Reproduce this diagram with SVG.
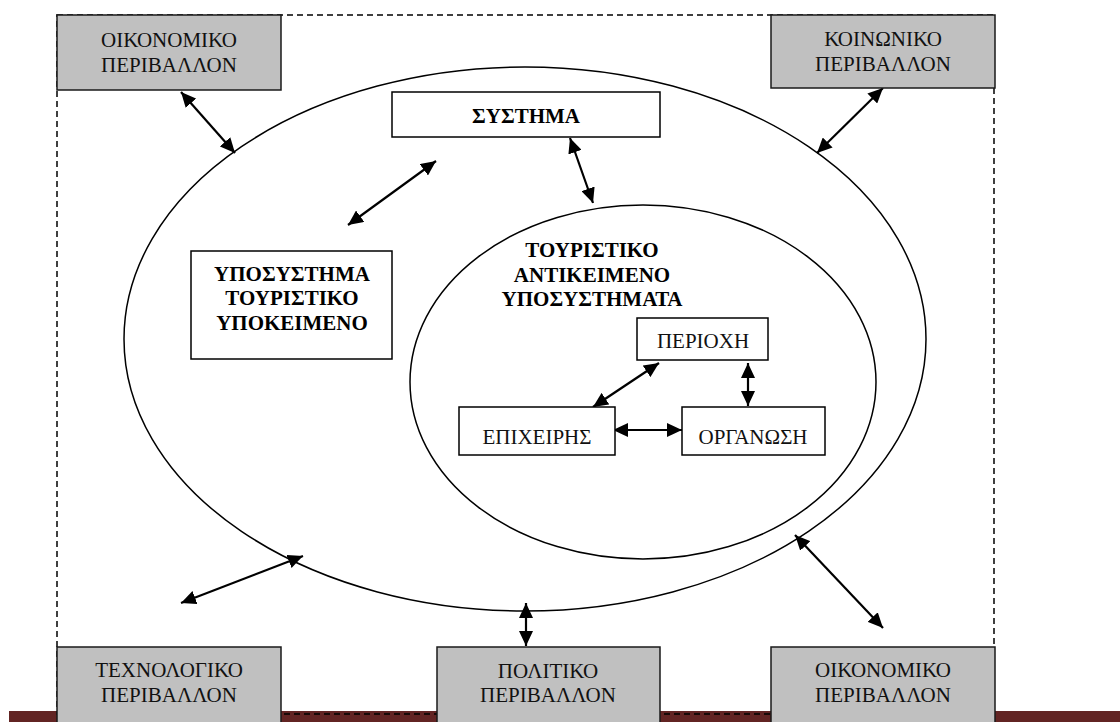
<svg xmlns="http://www.w3.org/2000/svg" width="1120" height="722" viewBox="0 0 1120 722">
<defs>
<style>
.env{fill:#c0c0c0;stroke:#1a1a1a;stroke-width:1.5}
.box{fill:#fff;stroke:#000;stroke-width:1.5}
.t{font-family:"Liberation Serif","DejaVu Serif",serif;font-size:21px;fill:#111;text-anchor:middle}
.b{font-weight:bold;fill:#000}
.ell{fill:none;stroke:#000;stroke-width:1.5}
.arr{stroke:#000;stroke-width:2.2;fill:none;marker-start:url(#ah);marker-end:url(#ah)}
</style>
<marker id="ah" markerUnits="userSpaceOnUse" markerWidth="16" markerHeight="14" refX="15" refY="7" orient="auto-start-reverse">
<path d="M0,0 L15,7 L0,14 z" fill="#000"/>
</marker>
</defs>
<rect x="0" y="0" width="1120" height="722" fill="#fff"/>
<rect x="9" y="711" width="1111" height="11" fill="#622423"/>
<rect x="57" y="15" width="937" height="699" fill="none" stroke="#000" stroke-width="1.5" stroke-dasharray="6,4"/>
<ellipse id="outer" class="ell" cx="525" cy="339" rx="401" ry="272"/>
<ellipse id="inner" class="ell" cx="643" cy="382" rx="233" ry="177"/>
<g id="connectors">
<line class="arr" x1="181" y1="92" x2="235" y2="153"/>
<line class="arr" x1="883" y1="88" x2="817" y2="153"/>
<line class="arr" x1="436" y1="161" x2="348" y2="225"/>
<line class="arr" x1="570" y1="138" x2="593" y2="203"/>
<line class="arr" x1="659" y1="363" x2="593" y2="407"/>
<line class="arr" x1="748" y1="363" x2="748" y2="406"/>
<line class="arr" x1="613" y1="430" x2="682" y2="430"/>
<line class="arr" x1="303" y1="556" x2="181" y2="603"/>
<line class="arr" x1="526" y1="603" x2="526" y2="646"/>
<line class="arr" x1="795" y1="535" x2="883" y2="628"/>
</g>
<g id="env-oikonomiko-top">
<rect class="env" x="57" y="15" width="224" height="75"/>
<text class="t" x="169" y="47">ΟΙΚΟΝΟΜΙΚΟ</text>
<text class="t" x="169" y="72">ΠΕΡΙΒΑΛΛΟΝ</text>
</g>
<g id="env-koinoniko">
<rect class="env" x="771" y="15" width="224" height="73"/>
<text class="t" x="883" y="46">ΚΟΙΝΩΝΙΚΟ</text>
<text class="t" x="883" y="71">ΠΕΡΙΒΑΛΛΟΝ</text>
</g>
<g id="env-technologiko">
<rect class="env" x="57" y="647" width="224" height="85"/>
<text class="t" x="169" y="677">ΤΕΧΝΟΛΟΓΙΚΟ</text>
<text class="t" x="169" y="702">ΠΕΡΙΒΑΛΛΟΝ</text>
</g>
<g id="env-politiko">
<rect class="env" x="437" y="647" width="223" height="85"/>
<text class="t" x="548" y="678">ΠΟΛΙΤΙΚΟ</text>
<text class="t" x="548" y="702">ΠΕΡΙΒΑΛΛΟΝ</text>
</g>
<g id="env-oikonomiko-bottom">
<rect class="env" x="771" y="647" width="224" height="85"/>
<text class="t" x="883" y="677">ΟΙΚΟΝΟΜΙΚΟ</text>
<text class="t" x="883" y="702">ΠΕΡΙΒΑΛΛΟΝ</text>
</g>
<g id="systima">
<rect class="box" x="392" y="92" width="268" height="45"/>
<text class="t b" x="526" y="123">ΣΥΣΤΗΜΑ</text>
</g>
<g id="ypo-ypokeimeno">
<rect class="box" x="191" y="251" width="201" height="108"/>
<text class="t b" x="292" y="281">ΥΠΟΣΥΣΤΗΜΑ</text>
<text class="t b" x="292" y="305">ΤΟΥΡΙΣΤΙΚΟ</text>
<text class="t b" x="292" y="330">ΥΠΟΚΕΙΜΕΝΟ</text>
</g>
<g id="antikeimeno-label">
<text class="t b" x="592" y="257">ΤΟΥΡΙΣΤΙΚΟ</text>
<text class="t b" x="592" y="282">ΑΝΤΙΚΕΙΜΕΝΟ</text>
<text class="t b" x="592" y="306">ΥΠΟΣΥΣΤΗΜΑΤΑ</text>
</g>
<g id="periochi">
<rect class="box" x="637" y="318" width="131" height="42"/>
<text class="t" x="703" y="348">ΠΕΡΙΟΧΗ</text>
</g>
<g id="epicheiris">
<rect class="box" x="459" y="407" width="156" height="48"/>
<text class="t" x="537" y="444">ΕΠΙΧΕΙΡΗΣ</text>
</g>
<g id="organosi">
<rect class="box" x="682" y="407" width="143" height="48"/>
<text class="t" x="753" y="444">ΟΡΓΑΝΩΣΗ</text>
</g>
</svg>
